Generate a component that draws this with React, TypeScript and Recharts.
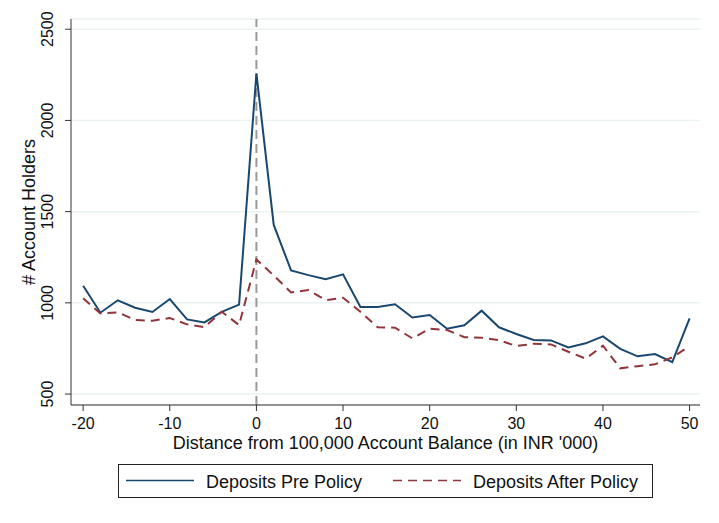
import React from 'react';
import {
  LineChart,
  Line,
  XAxis,
  YAxis,
  CartesianGrid,
  ReferenceLine,
  Legend,
} from 'recharts';

// Distance from the 100,000 balance threshold, in INR '000
const distance = [
  -20, -18, -16, -14, -12, -10, -8, -6, -4, -2, 0, 2, 4, 6, 8, 10, 12, 14,
  16, 18, 20, 22, 24, 26, 28, 30, 32, 34, 36, 38, 40, 42, 44, 46, 48, 50,
];

const depositsPre = [
  1094, 946, 1014, 973, 950, 1021, 909, 893, 951, 990, 2258, 1427, 1178, 1152,
  1130, 1156, 977, 977, 992, 920, 933, 858, 877, 957, 866, 829, 796, 794, 756,
  778, 816, 748, 707, 719, 675, 915,
];

const depositsAfter = [
  1025, 942, 948, 906, 902, 917, 882, 867, 951, 878, 1238, 1150, 1057, 1070,
  1015, 1028, 951, 866, 864, 805, 858, 851, 812, 809, 796, 763, 776, 772, 732,
  694, 765, 641, 653, 663, 701, 763,
];

const xTicks = [-20, -10, 0, 10, 20, 30, 40, 50];
const yTicks = [500, 1000, 1500, 2000, 2500];

const seriesNames = ['Deposits Pre Policy', 'Deposits After Policy'];

const data = distance.map((d, i) => ({
  distance: d,
  pre: depositsPre[i],
  after: depositsAfter[i],
}));

const FONT = '"Liberation Sans", Arial, sans-serif';
const NAVY = '#1a476f';
const MAROON = '#90353b';
const AXIS = '#333';

const XTick = ({ x, y, payload }: any) => (
  <text x={x} y={y + 16} textAnchor="middle" fontSize={16} fill="#111" fontFamily={FONT}>
    {payload.value}
  </text>
);

const YTick = ({ x, y, payload }: any) => (
  <text
    x={x - 10}
    y={y}
    textAnchor="middle"
    fontSize={16}
    fill="#111"
    fontFamily={FONT}
    transform={`rotate(-90, ${x - 10}, ${y})`}
  >
    {payload.value}
  </text>
);

const XTitle = ({ viewBox }: any) => (
  <text
    x={viewBox.x + viewBox.width / 2}
    y={449}
    textAnchor="middle"
    fontSize={18}
    fill="#111"
    fontFamily={FONT}
  >
    Distance from 100,000 Account Balance (in INR &apos;000)
  </text>
);

const YTitle = ({ viewBox }: any) => {
  const cy = viewBox.y + viewBox.height / 2;
  return (
    <text
      x={35}
      y={cy}
      textAnchor="middle"
      fontSize={18}
      fill="#111"
      fontFamily={FONT}
      transform={`rotate(-90, 35, ${cy})`}
    >
      # Account Holders
    </text>
  );
};

// Boxed legend with two entries side by side, kept in series order
const LegendBox = ({ payload }: any) => {
  const items = [...(payload || [])].sort(
    (a: any, b: any) => seriesNames.indexOf(a.value) - seriesNames.indexOf(b.value),
  );
  return (
    <svg width={535} height={34} style={{ display: 'block' }}>
      <rect x={0.5} y={0.5} width={534} height={33} fill="#fff" stroke="#222" strokeWidth={1} />
      {items.map((entry: any, i: number) => {
        const left = i * 267;
        return (
          <g key={entry.value}>
            <line
              x1={left + 8}
              x2={left + 76}
              y1={16.5}
              y2={16.5}
              stroke={entry.color}
              strokeWidth={1.6}
              strokeDasharray={entry.payload?.strokeDasharray}
            />
            <text x={left + 88} y={24} fontSize={18} fill="#111" fontFamily={FONT}>
              {entry.value}
            </text>
          </g>
        );
      })}
    </svg>
  );
};

export default function App() {
  return (
    <div style={{ width: 719, height: 523, background: '#fff', position: 'relative' }}>
      <style>{'body{margin:0;background:#fff}'}</style>
      <LineChart
        width={719}
        height={523}
        data={data}
        margin={{ top: 19, right: 19, bottom: 68, left: 0 }}
      >
        <CartesianGrid horizontal vertical={false} stroke="#eaf2f3" strokeWidth={1.5} />
        <XAxis
          dataKey="distance"
          type="number"
          domain={[-21.4, 51.2]}
          ticks={xTicks}
          tickSize={6}
          tickMargin={2}
          height={50}
          stroke={AXIS}
          tickLine={{ stroke: AXIS }}
          tick={<XTick />}
          label={{ content: <XTitle /> }}
        />
        <YAxis
          type="number"
          domain={[440, 2556]}
          ticks={yTicks}
          tickSize={6}
          tickMargin={2}
          width={71}
          stroke={AXIS}
          tickLine={{ stroke: AXIS }}
          tick={<YTick />}
          label={{ content: <YTitle /> }}
        />
        <ReferenceLine x={0} stroke="#999" strokeWidth={2} strokeDasharray="9 5" />
        <Line
          type="linear"
          dataKey="pre"
          name={seriesNames[0]}
          stroke={NAVY}
          strokeWidth={2}
          dot={false}
          isAnimationActive={false}
        />
        <Line
          type="linear"
          dataKey="after"
          name={seriesNames[1]}
          stroke={MAROON}
          strokeWidth={2}
          strokeDasharray="9 6"
          dot={false}
          isAnimationActive={false}
        />
        <Legend
          layout="horizontal"
          verticalAlign="middle"
          align="center"
          wrapperStyle={{ left: 118, top: 464, width: 535, height: 34 }}
          content={<LegendBox />}
        />
      </LineChart>
    </div>
  );
}
